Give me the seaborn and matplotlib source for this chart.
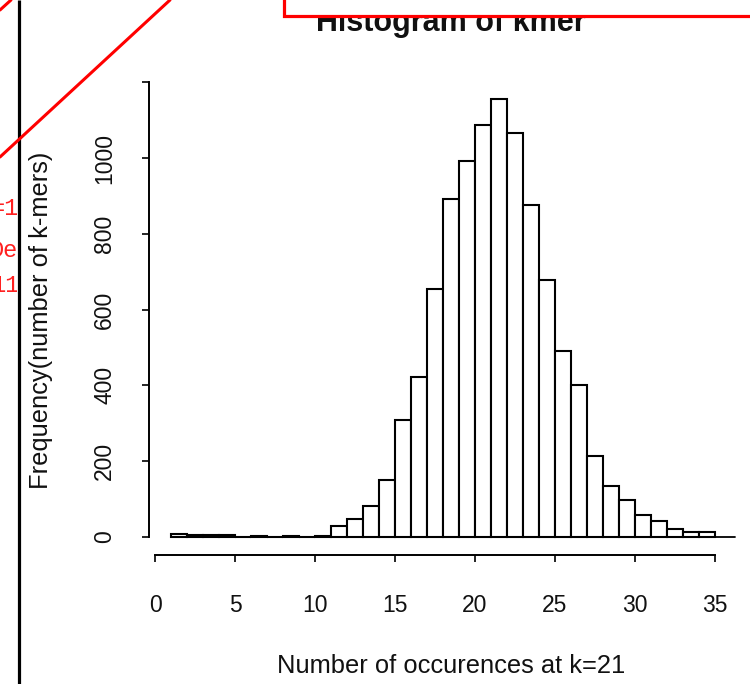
import numpy as np
import pandas as pd
import matplotlib
matplotlib.use("Agg")
import matplotlib.pyplot as plt
import seaborn as sns
from matplotlib.patches import Rectangle

# ---- data ----
bin_left = list(range(1, 35))
counts = [9, 4, 4, 4, 0, 3, 0, 3, 0, 3,
          30, 47, 83, 151, 310, 423, 654, 892, 992, 1088,
          1157, 1067, 876, 677, 492, 402, 213, 134, 97, 59,
          43, 21, 12, 12]
x_ticks = [0, 5, 10, 15, 20, 25, 30, 35]
y_ticks = [0, 200, 400, 600, 800, 1000, 1200]
y_tick_labels = ["0", "200", "400", "600", "800", "1000", ""]
title = "Histogram of kmer"
x_label = "Number of occurences at k=21"
y_label = "Frequency(number of k-mers)"
red_fragments = ["=1", "De", "11"]

sns.set_style("ticks")
plt.rcParams["font.family"] = ["Liberation Sans", "DejaVu Sans"]

W, H = 750, 684
fig = plt.figure(figsize=(W / 100, H / 100), dpi=100)
fig.patch.set_facecolor("white")

# main plot region in pixels: x 149..737, y 81..555
L, R, T, B = 149, 737, 81, 555
ax = fig.add_axes([L / W, 1 - B / H, (R - L) / W, (B - T) / H])
ax.set_facecolor("white")

df = pd.DataFrame({"occ": [b + 0.5 for b in bin_left], "n": counts})
sns.histplot(data=df, x="occ", weights="n", binwidth=1, binrange=(1, 35),
             color="white", edgecolor="black", linewidth=1.5, alpha=1,
             ax=ax)

xmin, xmax = -0.375, 36.375
ymin, ymax = -47.5, 1203.2
ax.set_xlim(xmin, xmax)
ax.set_ylim(ymin, ymax)
ax.axhline(0, xmin=(1 - xmin) / (xmax - xmin), xmax=(36.25 - xmin) / (xmax - xmin),
           color="black", lw=1.3, zorder=0.5)

for s in ["top", "right"]:
    ax.spines[s].set_visible(False)
ax.spines["left"].set_bounds(0, 1200)
ax.spines["bottom"].set_bounds(0, 35)
for s in ["left", "bottom"]:
    ax.spines[s].set_linewidth(1.4)
    ax.spines[s].set_color("black")

ax.set_xticks(x_ticks)
ax.set_xticklabels([str(v) for v in x_ticks])
ax.set_yticks(y_ticks)
ax.set_yticklabels(y_tick_labels, rotation=90, va="center", ha="center")
ax.tick_params(axis="both", length=5, width=1.2, color="black",
               labelsize=16.5, labelcolor="#111111")
ax.tick_params(axis="x", pad=23)
ax.tick_params(axis="y", pad=27)

ax.set_xlabel(x_label, fontsize=18.4, color="#111111")
ax.xaxis.label.set_va("center")
ax.xaxis.set_label_coords((451 - L) / (R - L), (B - 666) / (B - T))
ax.set_ylabel(y_label, fontsize=18.4, color="#111111")
ax.yaxis.label.set_va("center")
ax.yaxis.set_label_coords((41 - L) / (R - L), (B - 320) / (B - T))

fig.text(451 / W, 1 - 31 / H, title, ha="center", va="baseline",
         fontsize=22, fontweight="bold", color="#111111")

# ---- screenshot overlay: clipped red code fragments on the far left ----
lax = fig.add_axes([0, 0, 17 / W, 1])
lax.set_xlim(0, 17)
lax.set_ylim(H, 0)
lax.axis("off")
for txt, x0, yb in zip(red_fragments, [-9, -11, -9], [215, 257, 292]):
    t = lax.text(x0, yb, txt, color="#ff2020", fontsize=17, va="baseline",
                 ha="left", family=["Liberation Mono", "DejaVu Sans Mono"])
    t.set_clip_on(True)

# ---- overlay: black bar, red lines and red box ----
ov = fig.add_axes([0, 0, 1, 1], zorder=10)
ov.set_xlim(0, W)
ov.set_ylim(H, 0)
ov.axis("off")
ov.patch.set_alpha(0)
ov.plot([18.5, 18.5], [0, H], color="black", lw=2.3, solid_capstyle="butt")
ov.plot([0, 170], [157, 0], color="red", lw=2.2)
ov.plot([0, 11], [10, 0], color="red", lw=2.2)
ov.add_patch(Rectangle((284, -10), 480, 25.5, facecolor="white",
                       edgecolor="red", lw=2.3))

fig.savefig("out.png", dpi=100)
